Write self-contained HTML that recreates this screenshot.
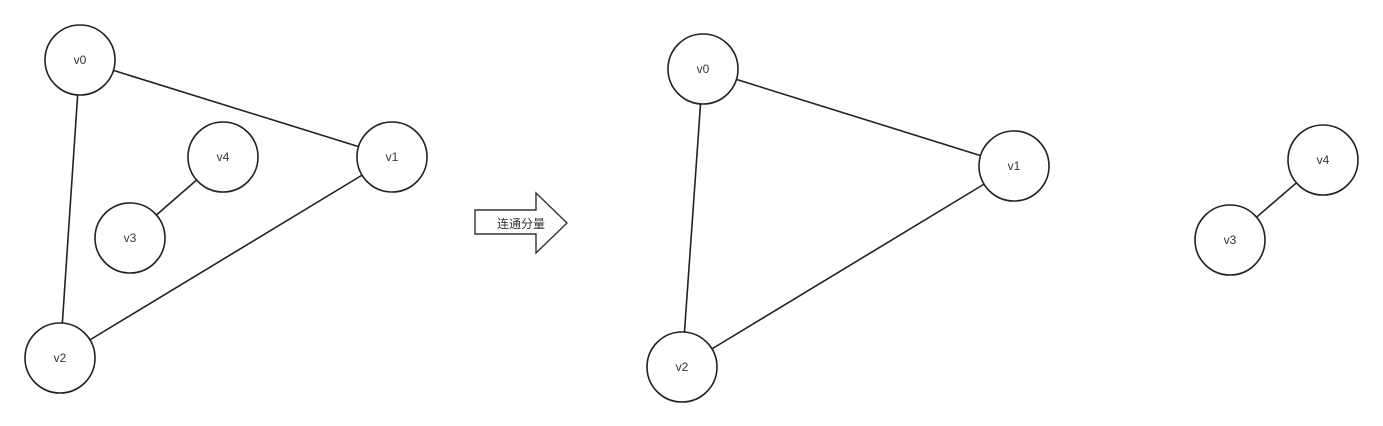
<!DOCTYPE html>
<html><head><meta charset="utf-8"><style>
html,body{margin:0;padding:0;background:#fff;}
svg{display:block;}
text{font-family:"Liberation Sans","Noto Sans CJK SC",sans-serif;font-size:12px;fill:#333;}
</style></head><body>
<svg width="1383" height="426" viewBox="0 0 1383 426">
<g id="edges" stroke="#222" stroke-width="1.6"></g>
<g id="nodes"></g>
<g>
<polygon points="475,210 536,210 536,193 567,223 536,253 536,234 475,234" fill="#fff" stroke="#333" stroke-width="1.4"/>
<text x="521" y="228" text-anchor="middle">连通分量</text>
</g>
</svg>
<script>
const nodeNames=['v0','v1','v2','v3','v4','v0','v1','v2','v3','v4'];
const nodeX=[80,392,60,130,223,703,1014,682,1230,1323];
const nodeY=[60,157,358,238,157,69,166,367,240,160];
const edgeFrom=[0,0,1,3,5,5,6,8];
const edgeTo=[1,2,2,4,6,7,7,9];
const R=35;
const NS='http://www.w3.org/2000/svg';
const eg=document.getElementById('edges'),ng=document.getElementById('nodes');
for(let i=0;i<edgeFrom.length;i++){
 const a=edgeFrom[i],b=edgeTo[i];
 const dx=nodeX[b]-nodeX[a],dy=nodeY[b]-nodeY[a],d=Math.hypot(dx,dy);
 const l=document.createElementNS(NS,'line');
 l.setAttribute('x1',nodeX[a]+dx/d*R);l.setAttribute('y1',nodeY[a]+dy/d*R);
 l.setAttribute('x2',nodeX[b]-dx/d*R);l.setAttribute('y2',nodeY[b]-dy/d*R);
 
 
 eg.appendChild(l);
}
for(let i=0;i<nodeNames.length;i++){
 const g=document.createElementNS(NS,'g');
 
 
 const c=document.createElementNS(NS,'circle');
 c.setAttribute('cx',nodeX[i]);c.setAttribute('cy',nodeY[i]);c.setAttribute('r',R);
 c.setAttribute('fill','#fff');c.setAttribute('stroke','#222');c.setAttribute('stroke-width','1.6');
 const t=document.createElementNS(NS,'text');
 t.setAttribute('x',nodeX[i]);t.setAttribute('y',nodeY[i]+4);t.setAttribute('text-anchor','middle');
 t.textContent=nodeNames[i];
 g.appendChild(c);g.appendChild(t);ng.appendChild(g);
}
</script>
</body></html>
